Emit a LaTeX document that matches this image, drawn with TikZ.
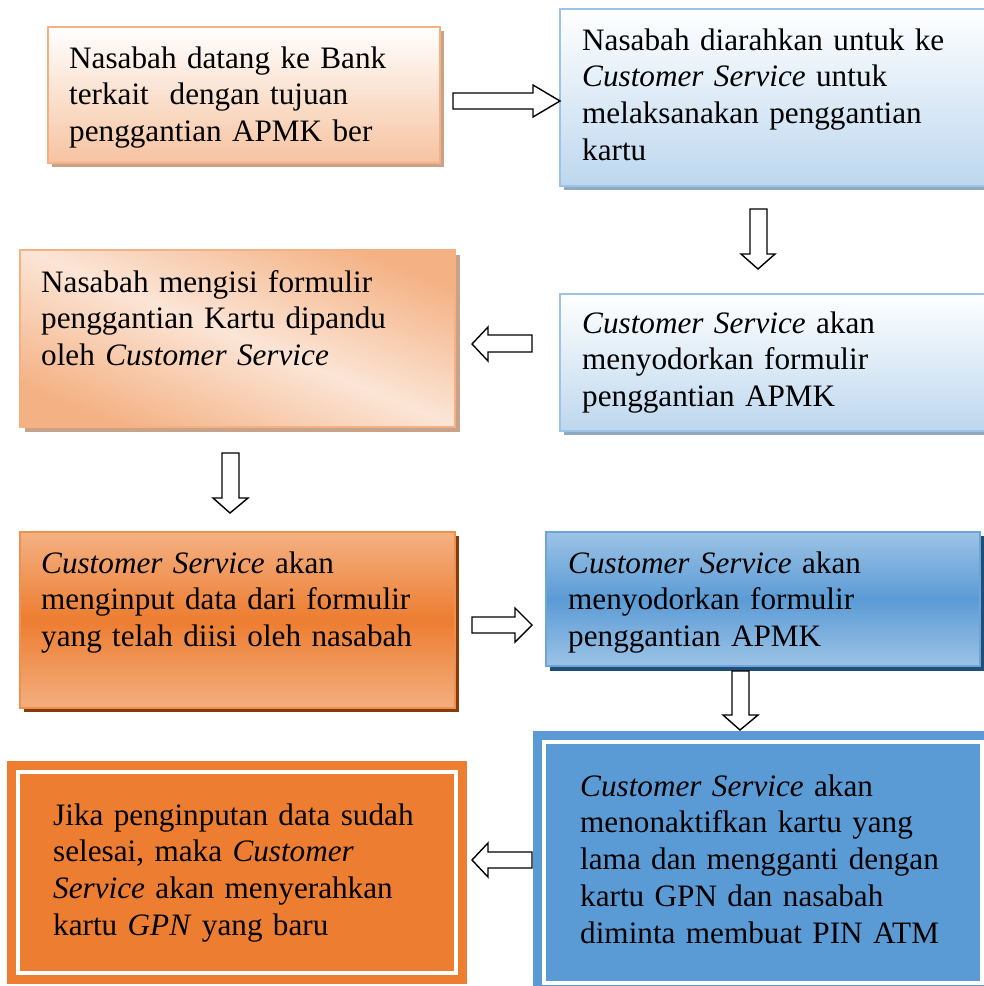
\documentclass[tikz,border=0pt]{standalone}
\usepackage{fontspec}
\setmainfont{Liberation Serif}
\definecolor{pk}{HTML}{F4B183}
\definecolor{pkL}{HTML}{F6C3A0}
\definecolor{pkM}{HTML}{FBE5D6}
\definecolor{shA}{HTML}{C9A28A}
\definecolor{bl}{HTML}{9DC3E6}
\definecolor{blL}{HTML}{BDD7EE}
\definecolor{shB}{HTML}{8FA9C2}
\definecolor{orn}{HTML}{ED7D31}
\definecolor{shC}{HTML}{843C0C}
\definecolor{bm}{HTML}{5B9BD5}
\definecolor{shD}{HTML}{1F4E79}
\tikzset{
  box/.style={rectangle, inner sep=0pt, outer sep=0pt, anchor=north west, line width=1.6pt},
  txt/.style={font=\fontsize{31.2}{36.8}\selectfont, inner sep=0pt, text width=395pt, align=left, anchor=base west},
  barrow/.style={draw=black, fill=white, line width=1.4pt, line join=miter},
  frameline/.style={draw=white, line width=4pt}
}
\begin{document}
\begin{tikzpicture}[x=1pt,y=-1pt]
\path[use as bounding box] (0,0) rectangle (984,986);
\clip (0,0) rectangle (984,986);

% shadows
\fill[shA] (52,31) rectangle (444,167);
\fill[shB] (564,13) rectangle (996,190);
\fill[shA] (24.5,254.5) rectangle (459.5,431.5);
\fill[shB] (564,298) rectangle (996,435);
\fill[shC] (24,536) rectangle (459,712);
\fill[shD] (550,536) rectangle (984,671);

% boxes
\node[box, draw=pk, top color=white, bottom color=pkL, minimum width=392pt, minimum height=136pt] (b1) at (48,27) {};
\node[box, draw=bl, top color=white, bottom color=blL, minimum width=440pt, minimum height=177pt] (b2) at (560,9) {};
\begin{scope}
  \clip (20,250) rectangle (455,427);
  \fill[pk] (20,250) rectangle (455,427);
  \begin{scope}[transform canvas={rotate around={-22.1:(250,342)}}]
    \shade[top color=pk, bottom color=pk, middle color=pkM] (-20,214) rectangle (520,470);
  \end{scope}
\end{scope}
\node[box, draw=pk, minimum width=435pt, minimum height=177pt] (b3) at (20,250) {};
\node[box, draw=bl, top color=white, bottom color=blL, minimum width=440pt, minimum height=137pt] (b4) at (560,294) {};
\node[box, draw=orn!85!white, top color=pk, bottom color=pk!95!orn, middle color=orn, minimum width=435pt, minimum height=176pt] (b5) at (20,532) {};
\node[box, draw=bm!90!white, top color=bl, bottom color=bl, middle color=bm, minimum width=434pt, minimum height=134pt] (b6) at (546,532) {};
\node[box, fill=bm, minimum width=462pt, minimum height=264pt] (b7) at (533,731) {};
\draw[frameline] (544,741.5) rectangle (982,983);
\node[box, fill=orn, minimum width=460pt, minimum height=223pt] (b8) at (7,761) {};
\draw[frameline] (18,771.5) rectangle (456,973);

% texts
\node[txt] (t1) at (69,68) {Nasabah datang ke Bank\\terkait\ \ dengan tujuan\\penggantian APMK ber};
\node[txt] (t2) at (582,50) {Nasabah diarahkan untuk ke\\\textit{Customer Service} untuk\\melaksanakan penggantian\\kartu};
\node[txt] (t3) at (41,292) {Nasabah mengisi formulir\\penggantian Kartu dipandu\\oleh \textit{Customer Service}};
\node[txt] (t4) at (582,333) {\textit{Customer Service} akan\\menyodorkan formulir\\penggantian APMK};
\node[txt] (t5) at (41,573) {\textit{Customer Service} akan\\menginput data dari formulir\\yang telah diisi oleh nasabah};
\node[txt] (t6) at (568,573) {\textit{Customer Service} akan\\menyodorkan formulir\\penggantian APMK};
\node[txt] (t7) at (580,796) {\textit{Customer Service} akan\\menonaktifkan kartu yang\\lama dan mengganti dengan\\kartu GPN dan nasabah\\diminta membuat PIN ATM};
\node[txt] (t8) at (53,825) {Jika penginputan data sudah\\selesai, maka \textit{Customer}\\\textit{Service} akan menyerahkan\\kartu \textit{GPN} yang baru};

% block arrows
% b1 -> b2 (right)
\draw[barrow] (453,93) -- (533,93) -- (533,85) -- (560,101) -- (533,117) -- (533,109) -- (453,109) -- cycle;
% b2 -> b4 (down)
\draw[barrow] (750,209) -- (750,254) -- (741,254) -- (758,269) -- (775,254) -- (767,254) -- (767,209) -- cycle;
% b4 -> b3 (left)
\draw[barrow] (532,335) -- (488,335) -- (488,327) -- (472,344) -- (488,361) -- (488,352) -- (532,352) -- cycle;
% b3 -> b5 (down)
\draw[barrow] (222,453) -- (222,498) -- (213,498) -- (230,513) -- (248,498) -- (239,498) -- (239,453) -- cycle;
% b5 -> b6 (right)
\draw[barrow] (472,617) -- (515,617) -- (515,608) -- (532,625) -- (515,642) -- (515,633) -- (472,633) -- cycle;
% b6 -> b7 (down)
\draw[barrow] (732,671) -- (732,715) -- (723,715) -- (740,730) -- (758,715) -- (749,715) -- (749,671) -- cycle;
% b7 -> b8 (left)
\draw[barrow] (532,852) -- (488,852) -- (488,843) -- (472,860) -- (488,877) -- (488,868) -- (532,868) -- cycle;
\end{tikzpicture}
\end{document}
